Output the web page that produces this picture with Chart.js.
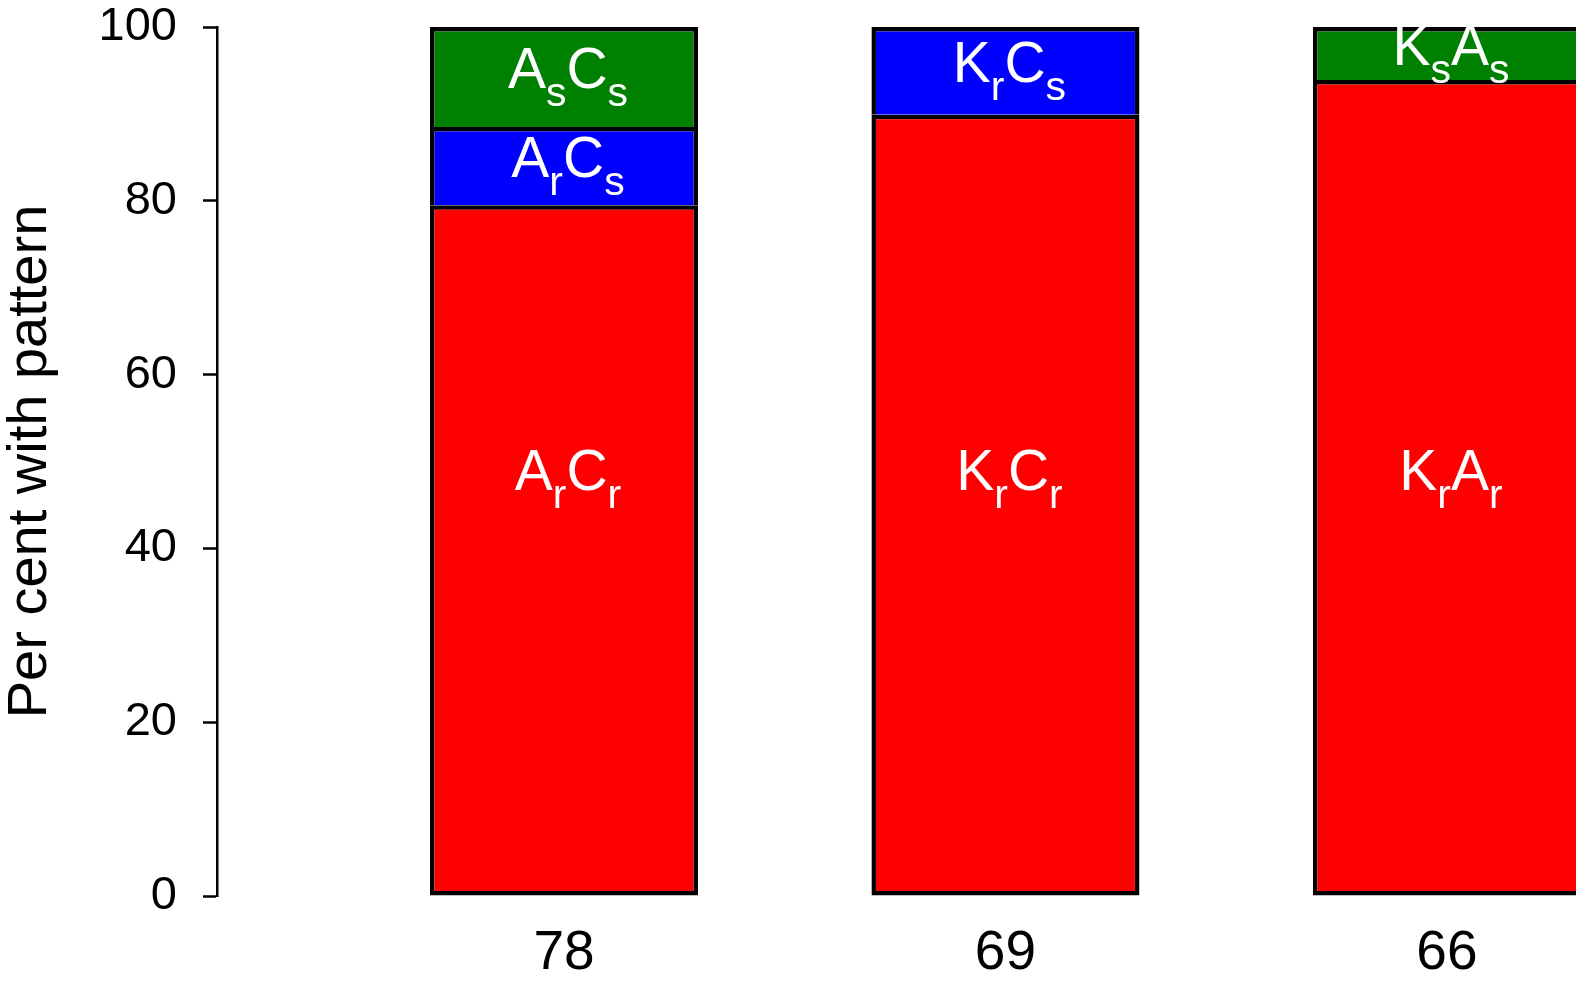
<!DOCTYPE html>
<html>
<head>
<meta charset="utf-8">
<script src="https://cdn.jsdelivr.net/npm/chart.js@4/dist/chart.umd.min.js"></script>
<style>
  html, body { margin: 0; padding: 0; background: #fff; overflow: hidden; }
  #wrap { position: relative; width: 1576px; height: 982px; overflow: hidden; }
  #pattern-chart { position: absolute; left: 0; top: -60px; }
</style>
</head>
<body>
<div id="wrap">
  <canvas id="pattern-chart" width="1700" height="1042"></canvas>
</div>
<script>
'use strict';

// x positions of the three groups and the sample size shown under each
const groups = [1, 2, 3];
const sampleSizes = ['78', '69', '66'];

// per cent with each resistance pattern (bottom -> top)
const bothResistant = [79.5, 89.9, 93.9];   // red
const oneResistant = [9.0, 10.1, null];     // blue
const bothSusceptible = [11.5, null, 6.1];  // green

// segment labels: [letter, subscript] pairs
const redLabels = [[['A', 'r'], ['C', 'r']], [['K', 'r'], ['C', 'r']], [['K', 'r'], ['A', 'r']]];
const blueLabels = [[['A', 'r'], ['C', 's']], [['K', 'r'], ['C', 's']], null];
const greenLabels = [[['A', 's'], ['C', 's']], null, [['K', 's'], ['A', 's']]];

const yTicks = [0, 20, 40, 60, 80, 100];

const FONT = '"Liberation Sans", Arial, Helvetica, sans-serif';

// draws "A_r C_s" style labels centred in each segment
const segmentLabels = {
  id: 'segmentLabels',
  afterDatasetsDraw(chart) {
    const ctx = chart.ctx;
    const yScale = chart.scales.y;
    const bigSize = 57, subSize = 41, subDrop = 18;
    chart.data.datasets.forEach((ds, di) => {
      const meta = chart.getDatasetMeta(di);
      meta.data.forEach((el, i) => {
        const lab = ds.segLabels[i];
        if (!lab || ds.data[i].y === null) return;
        let cy;
        if (di === 0) cy = yScale.getPixelForValue(48);
        else cy = (el.y + el.base) / 2;
        const baseline = cy + 11;
        // total width
        let w = 0;
        lab.forEach(([big, sub]) => {
          ctx.font = bigSize + 'px ' + FONT;
          w += ctx.measureText(big).width;
          ctx.font = subSize + 'px ' + FONT;
          w += ctx.measureText(sub).width;
        });
        let x = el.x - w / 2 + 4;
        ctx.save();
        ctx.fillStyle = '#ffffff';
        ctx.textAlign = 'left';
        ctx.textBaseline = 'alphabetic';
        lab.forEach(([big, sub]) => {
          ctx.font = bigSize + 'px ' + FONT;
          ctx.fillText(big, x, baseline);
          x += ctx.measureText(big).width;
          ctx.font = subSize + 'px ' + FONT;
          ctx.fillText(sub, x, baseline + subDrop);
          x += ctx.measureText(sub).width;
        });
        ctx.restore();
      });
    });
  }
};

function toPoints(values) {
  return values.map((v, i) => ({ x: groups[i], y: v }));
}

const canvas = document.getElementById('pattern-chart');

new Chart(canvas, {
  type: 'bar',
  data: {
    datasets: [
      {
        label: 'both resistant',
        data: toPoints(bothResistant),
        segLabels: redLabels,
        backgroundColor: '#ff0000',
        borderSkipped: false,
      },
      {
        label: 'one resistant',
        data: toPoints(oneResistant),
        segLabels: blueLabels,
        backgroundColor: '#0000ff',
        borderSkipped: 'start',
      },
      {
        label: 'both susceptible',
        data: toPoints(bothSusceptible),
        segLabels: greenLabels,
        backgroundColor: '#008000',
        borderSkipped: 'start',
      },
    ],
  },
  options: {
    responsive: false,
    animation: false,
    devicePixelRatio: 1,
    layout: { padding: { top: 87, right: 20, bottom: 0, left: 0 } },
    datasets: {
      bar: {
        barThickness: 268,
        borderColor: '#000000',
        borderWidth: 4.5,
        inflateAmount: 0,
      },
    },
    plugins: {
      legend: { display: false },
      tooltip: { enabled: false },
    },
    scales: {
      x: {
        type: 'linear',
        stacked: true,
        offset: false,
        min: 0.214,
        max: 3.528,
        afterBuildTicks: (scale) => { scale.ticks = groups.map(v => ({ value: v })); },
        afterFit: (scale) => { scale.height = 86; },
        ticks: {
          color: '#000',
          padding: 25,
          maxRotation: 0,
          autoSkip: false,
          font: { size: 55, family: FONT },
          callback: (v) => sampleSizes[groups.indexOf(v)] ?? '',
        },
        grid: { display: false, drawTicks: false },
        border: { display: false },
      },
      y: {
        stacked: true,
        min: 0,
        max: 100,
        afterBuildTicks: (scale) => { scale.ticks = yTicks.map(v => ({ value: v })); },
        afterFit: (scale) => { scale.width = 217; },
        ticks: {
          color: '#000',
          padding: 26,
          font: { size: 47, family: FONT },
        },
        grid: {
          drawOnChartArea: false,
          drawTicks: true,
          tickLength: 14,
          tickColor: '#000',
          tickWidth: 2.5,
        },
        border: { display: true, color: '#000', width: 2.5 },
        title: {
          display: true,
          text: 'Per cent with pattern',
          color: '#000',
          padding: { top: 3, bottom: 0 },
          font: { size: 56, family: FONT, lineHeight: 1 },
        },
      },
    },
  },
  plugins: [segmentLabels],
});
</script>
</body>
</html>
